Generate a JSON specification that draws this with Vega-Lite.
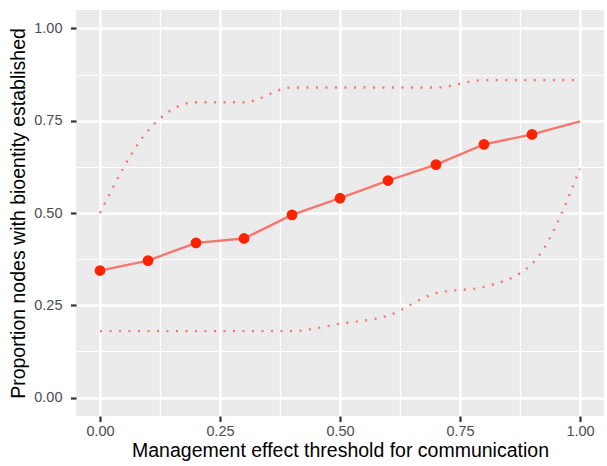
{
  "$schema": "https://vega.github.io/schema/vega-lite/v6.json",
  "width": 528,
  "height": 406,
  "autosize": "none",
  "padding": {"left": 76, "top": 10, "right": 3, "bottom": 50},
  "background": "white",
  "config": {
    "view": {"fill": "#EBEBEB", "stroke": null},
    "font": "Liberation Sans",
    "axis": {
      "domain": false,
      "tickColor": "#333333",
      "tickSize": 5.5,
      "tickWidth": 2.2,
      "labelColor": "#4D4D4D",
      "labelFont": "Liberation Sans",
      "labelFontSize": 14.5,
      "titleFont": "Liberation Sans",
      "titleFontSize": 19.5,
      "titleFontWeight": "normal",
      "titleColor": "black",
      "gridColor": "white"
    }
  },
  "datasets": {
    "mean": [
      {"x": 0.0, "y": 0.344},
      {"x": 0.1, "y": 0.371},
      {"x": 0.2, "y": 0.419},
      {"x": 0.3, "y": 0.431},
      {"x": 0.4, "y": 0.495},
      {"x": 0.5, "y": 0.540},
      {"x": 0.6, "y": 0.588},
      {"x": 0.7, "y": 0.631},
      {"x": 0.8, "y": 0.686},
      {"x": 0.9, "y": 0.713},
      {"x": 1.0, "y": 0.748}
    ],
    "bounds": [
      {"x": 0.0, "y": 0.50, "bound": "upper"},
      {"x": 0.1, "y": 0.723, "bound": "upper"},
      {"x": 0.2, "y": 0.80, "bound": "upper"},
      {"x": 0.3, "y": 0.80, "bound": "upper"},
      {"x": 0.4, "y": 0.84, "bound": "upper"},
      {"x": 0.5, "y": 0.84, "bound": "upper"},
      {"x": 0.6, "y": 0.84, "bound": "upper"},
      {"x": 0.7, "y": 0.84, "bound": "upper"},
      {"x": 0.8, "y": 0.86, "bound": "upper"},
      {"x": 0.9, "y": 0.86, "bound": "upper"},
      {"x": 1.0, "y": 0.86, "bound": "upper"},
      {"x": 0.0, "y": 0.18, "bound": "lower"},
      {"x": 0.1, "y": 0.18, "bound": "lower"},
      {"x": 0.2, "y": 0.18, "bound": "lower"},
      {"x": 0.3, "y": 0.18, "bound": "lower"},
      {"x": 0.4, "y": 0.18, "bound": "lower"},
      {"x": 0.5, "y": 0.20, "bound": "lower"},
      {"x": 0.6, "y": 0.222, "bound": "lower"},
      {"x": 0.7, "y": 0.283, "bound": "lower"},
      {"x": 0.8, "y": 0.30, "bound": "lower"},
      {"x": 0.9, "y": 0.362, "bound": "lower"},
      {"x": 1.0, "y": 0.62, "bound": "lower"}
    ]
  },
  "encoding": {
    "x": {
      "field": "x",
      "type": "quantitative",
      "scale": {"domain": [-0.05, 1.05], "nice": false, "zero": false},
      "axis": {
        "title": "Management effect threshold for communication",
        "values": [0, 0.125, 0.25, 0.375, 0.5, 0.625, 0.75, 0.875, 1],
        "labelExpr": "(datum.value * 4) % 1 == 0 ? format(datum.value, '.2f') : ''",
        "tickOpacity": {"condition": {"test": "(datum.value * 4) % 1 != 0", "value": 0}, "value": 1},
        "gridWidth": {"condition": {"test": "(datum.value * 4) % 1 != 0", "value": 1.2}, "value": 2.4},
        "labelPadding": 3,
        "titlePadding": 3,
        "labelFlush": false
      }
    },
    "y": {
      "field": "y",
      "type": "quantitative",
      "scale": {"domain": [-0.05, 1.05], "nice": false, "zero": false},
      "axis": {
        "title": "Proportion nodes with bioentity established",
        "values": [0, 0.125, 0.25, 0.375, 0.5, 0.625, 0.75, 0.875, 1],
        "labelExpr": "(datum.value * 4) % 1 == 0 ? format(datum.value, '.2f') : ''",
        "tickOpacity": {"condition": {"test": "(datum.value * 4) % 1 != 0", "value": 0}, "value": 1},
        "gridWidth": {"condition": {"test": "(datum.value * 4) % 1 != 0", "value": 1.2}, "value": 2.4},
        "labelPadding": 8.5,
        "titlePadding": 5,
        "labelFlush": false
      }
    }
  },
  "layer": [
    {
      "data": {"name": "bounds"},
      "mark": {"type": "line", "color": "#F8766D", "strokeWidth": 2.4, "strokeDash": [2, 7.5], "interpolate": "monotone"},
      "encoding": {"detail": {"field": "bound", "type": "nominal"}}
    },
    {
      "data": {"name": "mean"},
      "mark": {"type": "line", "color": "#F8766D", "strokeWidth": 2.4}
    },
    {
      "data": {"name": "mean"},
      "transform": [{"filter": "datum.x < 0.95"}],
      "mark": {"type": "circle", "color": "#FF2200", "size": 115, "opacity": 1}
    }
  ]
}
